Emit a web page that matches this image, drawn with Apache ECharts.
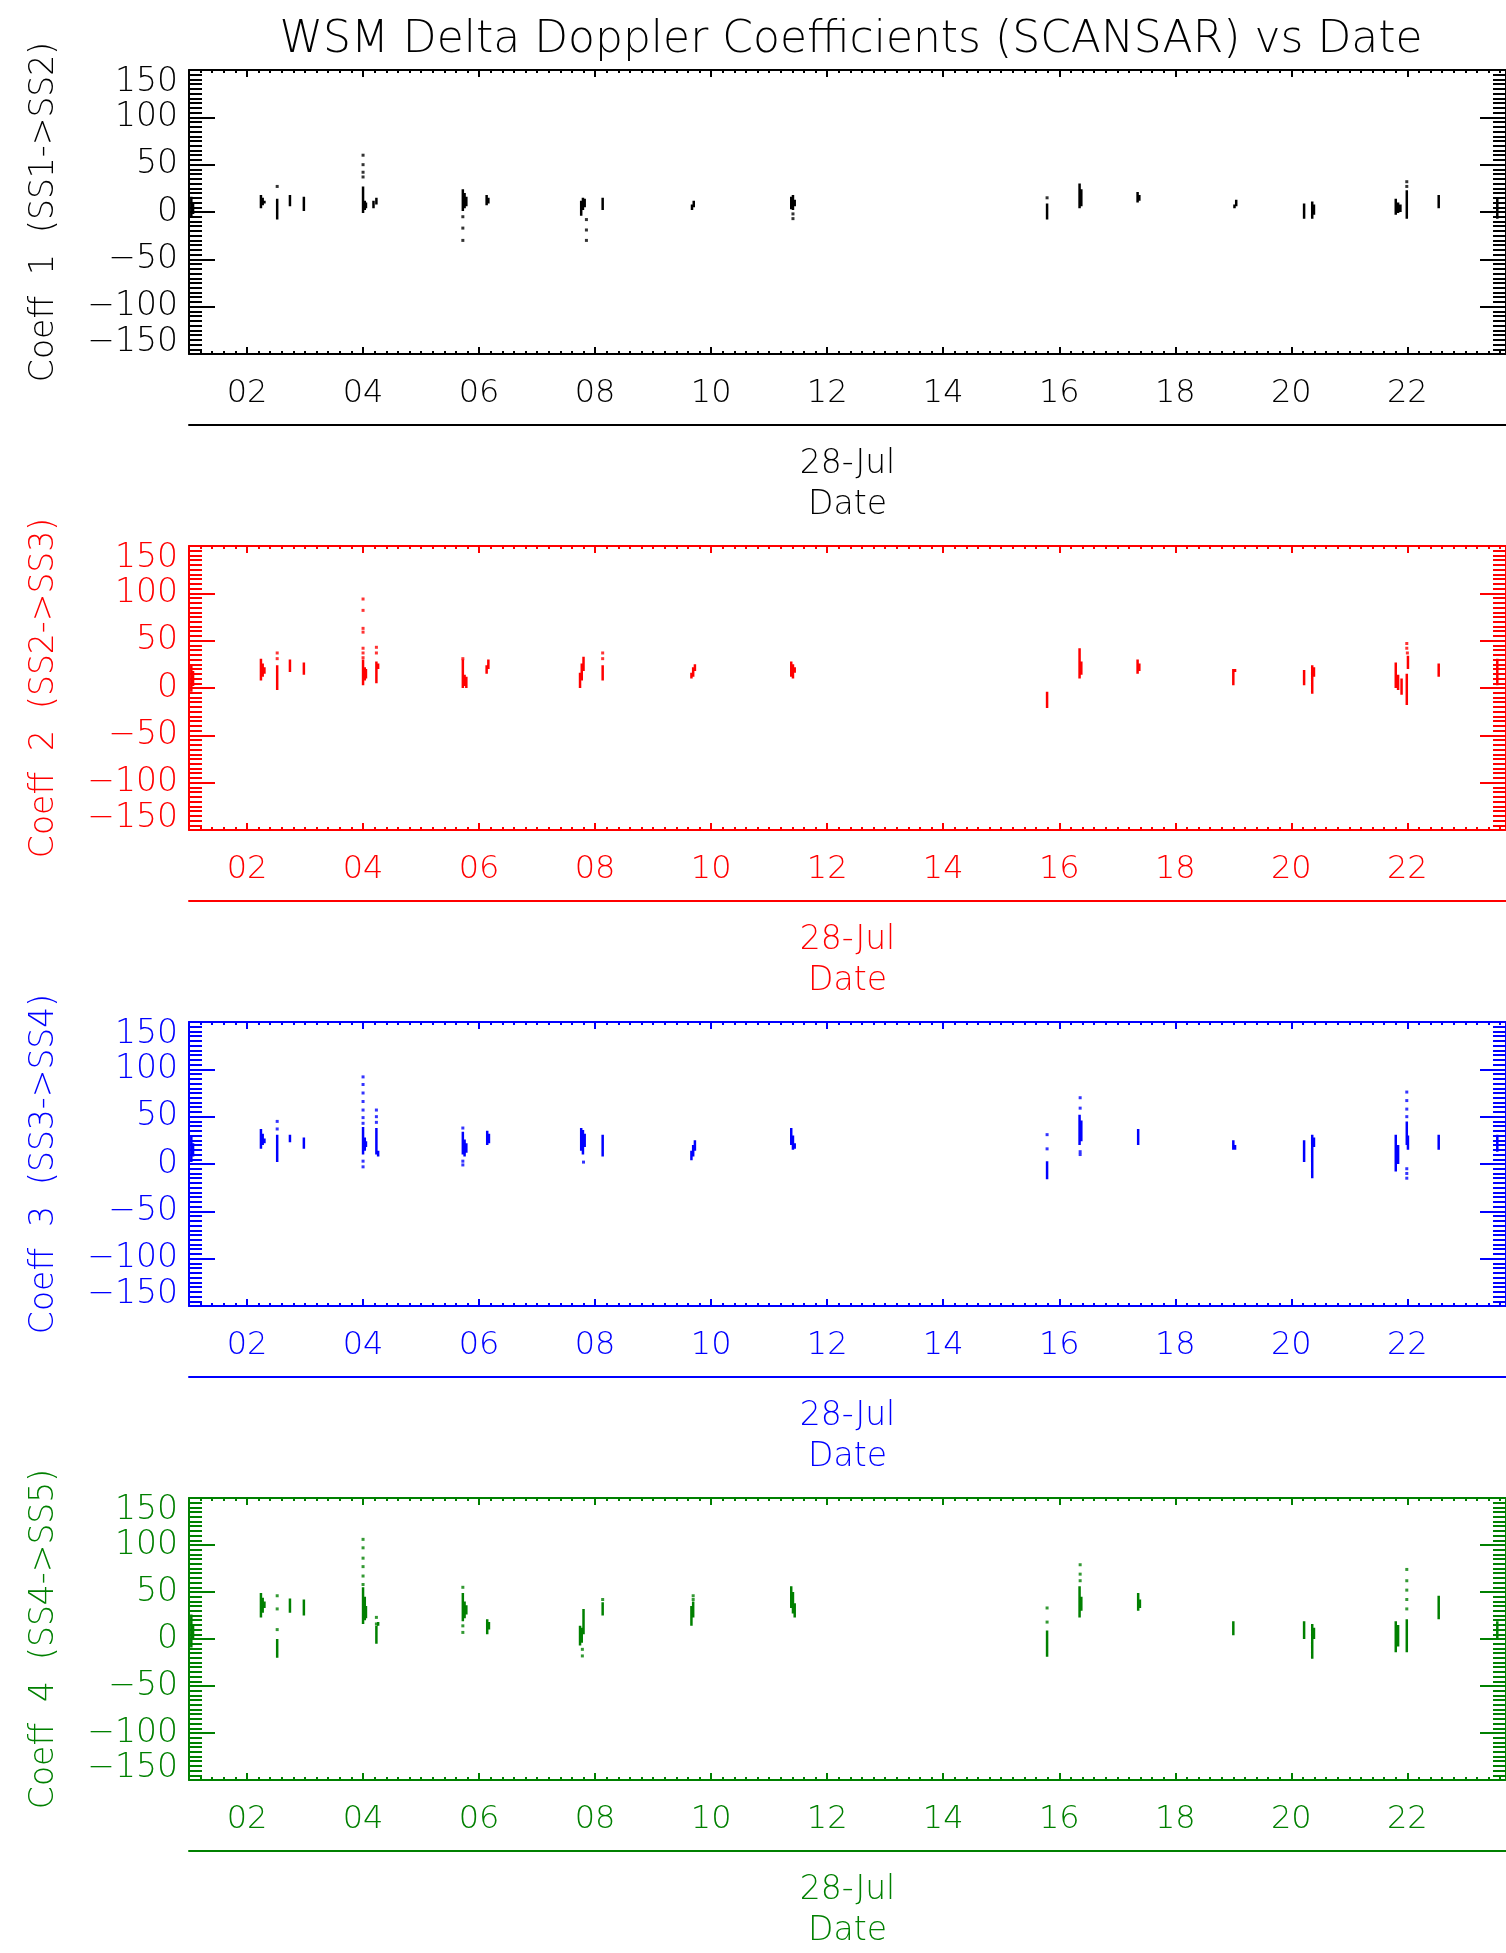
<!DOCTYPE html>
<html>
<head>
<meta charset="utf-8">
<title>WSM Delta Doppler Coefficients (SCANSAR) vs Date</title>
<script src="https://cdn.jsdelivr.net/npm/echarts@6/dist/echarts.min.js"></script>
<style>
  html, body { margin: 0; padding: 0; background: #fff; }
  #chart { width: 1506px; height: 1953px; }
</style>
</head>
<body>
<div id="chart"></div>
<script>
// x = hour of day on 28-Jul, streaks = [hour, low, high], dots = [hour, value]
var titleText = 'WSM Delta Doppler Coefficients (SCANSAR) vs Date';
var coeffNames = ['Coeff  1  (SS1->SS2)', 'Coeff  2  (SS2->SS3)', 'Coeff  3  (SS3->SS4)', 'Coeff  4  (SS4->SS5)'];
var coeffColors = ['#000000', '#ff0000', '#0000ff', '#008000'];
var hourTicks = [2, 4, 6, 8, 10, 12, 14, 16, 18, 20, 22];
var dateName = '28-Jul\nDate';

var c1Streaks = [
  [1.04, -5, 16], [1.07, -2, 10], [2.24, 4, 18], [2.27, 7, 15], [2.30, 9, 12],
  [2.52, -8, 14], [2.74, 6, 18], [2.98, 1, 16], [4.00, -1, 27], [4.03, 2, 12],
  [4.05, 4, 10], [4.18, 4, 12], [4.23, 8, 15], [5.72, 1, 24], [5.75, 4, 20],
  [5.78, 6, 16], [6.13, 7, 18], [6.16, 9, 15], [7.76, -4, 12], [7.79, 2, 15],
  [7.82, 5, 14], [8.13, 2, 15], [9.67, 2, 8], [9.70, 5, 12], [11.38, 3, 16],
  [11.41, 2, 18], [11.44, 6, 13], [15.79, -8, 9], [16.35, 4, 30], [16.38, 6, 24],
  [17.35, 10, 21], [17.38, 12, 18], [19.02, 4, 8], [19.05, 6, 13], [20.22, -7, 9],
  [20.36, -7, 11], [20.39, -3, 8], [21.80, -3, 14], [21.84, -1, 10], [21.88, 0, 8],
  [21.99, -7, 23], [22.54, 4, 18], [23.55, -7, 14]
];
var c1Dots = [
  [2.52, 27], [4.00, 60], [4.00, 50], [4.00, 42], [4.00, 37], [5.72, -5],
  [5.72, -17], [5.72, -30], [7.85, -8], [7.85, -19], [7.85, -30], [11.41, -2],
  [11.41, -7], [15.79, 15], [21.99, 32], [21.99, 27]
];

var c2Streaks = [
  [1.04, -4, 24], [1.07, 2, 18], [2.24, 8, 31], [2.27, 12, 26], [2.30, 15, 22],
  [2.52, -2, 24], [2.74, 17, 30], [2.98, 14, 27], [4.00, 3, 30], [4.03, 8, 22],
  [4.05, 10, 20], [4.23, 5, 28], [4.26, 20, 26], [5.72, 0, 30], [5.75, 2, 14],
  [5.78, 0, 12], [6.13, 15, 24], [6.16, 20, 30], [7.74, 0, 16], [7.77, 8, 26],
  [7.80, 18, 33], [8.13, 8, 24], [9.66, 10, 16], [9.69, 12, 22], [9.72, 18, 25],
  [11.38, 12, 28], [11.41, 10, 25], [11.44, 16, 22], [15.79, -21, -4], [16.35, 10, 42],
  [16.38, 14, 28], [17.35, 15, 30], [17.38, 18, 26], [19.00, 3, 20], [19.03, 17, 20],
  [20.22, 3, 19], [20.36, -6, 24], [20.39, 12, 22], [21.80, 0, 27], [21.84, -2, 14],
  [21.90, -7, 10], [21.99, -18, 15], [22.01, 20, 34], [22.54, 12, 26], [23.55, 3, 31]
];
var c2Dots = [
  [2.52, 37], [2.52, 31], [4.00, 94], [4.00, 82], [4.00, 63], [4.00, 59],
  [4.00, 42], [4.00, 37], [4.00, 32], [4.23, 43], [4.23, 37], [5.72, 31],
  [8.13, 37], [8.13, 31], [21.99, 47], [21.99, 42], [22.00, 37]
];

var c3Streaks = [
  [1.04, 2, 30], [1.07, 8, 22], [2.24, 16, 37], [2.27, 20, 32], [2.30, 22, 27],
  [2.52, 2, 31], [2.74, 23, 31], [2.98, 16, 28], [4.00, 10, 39], [4.03, 14, 28],
  [4.05, 18, 24], [4.23, 10, 38], [4.26, 8, 14], [5.72, 10, 34], [5.75, 8, 26],
  [5.78, 12, 22], [6.14, 20, 35], [6.17, 22, 32], [7.76, 14, 38], [7.79, 10, 36],
  [7.82, 18, 32], [8.13, 8, 31], [9.66, 4, 14], [9.69, 8, 20], [9.72, 14, 25],
  [11.38, 20, 38], [11.41, 15, 30], [11.44, 16, 22], [15.79, -16, 3], [16.35, 20, 52],
  [16.38, 24, 46], [17.36, 20, 37], [19.00, 15, 25], [19.03, 15, 20], [20.22, 2, 25],
  [20.36, -15, 31], [20.39, 18, 28], [21.80, -8, 31], [21.84, 0, 20], [21.99, 20, 45],
  [22.01, 15, 30], [22.54, 15, 31], [23.55, 13, 31]
];
var c3Dots = [
  [2.52, 45], [2.52, 37], [4.00, 92], [4.00, 84], [4.00, 75], [4.00, 66],
  [4.00, 57], [4.00, 49], [4.00, 43], [4.00, 3], [4.00, -3], [4.23, 57],
  [4.23, 50], [4.23, 44], [5.72, 38], [5.72, 3], [5.72, -1], [7.80, 2],
  [15.79, 31], [15.79, 16], [16.36, 70], [16.36, 59], [16.36, 13], [16.36, 10],
  [21.99, 76], [21.99, 67], [21.99, 58], [21.99, 50], [21.99, -5], [21.99, -10],
  [21.99, -15]
];

var c4Streaks = [
  [1.04, -9, 26], [1.07, 0, 15], [2.24, 23, 49], [2.27, 28, 44], [2.30, 33, 40],
  [2.52, -20, 0], [2.74, 28, 43], [2.98, 25, 42], [4.00, 16, 55], [4.03, 20, 45],
  [4.05, 22, 35], [4.23, -5, 14], [4.26, 14, 18], [5.72, 19, 49], [5.75, 22, 40],
  [5.78, 26, 36], [6.14, 5, 21], [6.17, 10, 18], [7.74, -7, 14], [7.77, -4, 12],
  [7.80, 5, 32], [8.13, 25, 39], [9.66, 14, 35], [9.69, 23, 40], [11.38, 33, 56],
  [11.41, 27, 50], [11.44, 23, 38], [15.79, -19, 9], [16.35, 23, 56], [16.38, 30, 45],
  [17.36, 30, 49], [17.39, 33, 42], [19.00, 4, 19], [20.22, 0, 19], [20.36, -21, 16],
  [20.39, 0, 12], [21.80, -14, 19], [21.84, -8, 15], [21.99, -14, 21], [22.54, 21, 46],
  [23.55, 0, 19]
];
var c4Dots = [
  [2.52, 46], [2.52, 32], [2.52, 10], [4.00, 106], [4.00, 97], [4.00, 86],
  [4.00, 77], [4.00, 67], [4.00, 58], [4.23, 23], [4.23, 16], [5.72, 55],
  [5.72, 14], [5.72, 7], [7.78, -11], [7.78, -18], [8.13, 42], [9.69, 46],
  [9.69, 42], [15.79, 33], [15.79, 18], [16.36, 79], [16.36, 69], [16.36, 62],
  [21.99, 74], [21.99, 62], [21.99, 52], [21.99, 42], [21.99, 32]
];

var allStreaks = [c1Streaks, c2Streaks, c3Streaks, c4Streaks];
var allDots = [c1Dots, c2Dots, c3Dots, c4Dots];

// layout
var fontFamily = "'DejaVu Sans', sans-serif";
var fontWeight = 200;
var gridLeft = 189, gridWidth = 1324, gridHeight = 284;
var gridTops = [70, 546, 1022, 1498];
var hourMin = 1, hourMax = 23.7;

function pad2(v) {
  return (v < 10 ? '0' : '') + v;
}

function streakLine(streaks) {
  var out = [];
  streaks.forEach(function (s) {
    out.push([s[0], s[1]], [s[0], s[2]], [s[0], '-']);
  });
  return out;
}

var grids = [], xAxes = [], yAxes = [], series = [];

for (var i = 0; i < 4; i++) {
  var color = coeffColors[i];
  var line = { color: color, width: 2 };
  grids.push({ left: gridLeft, top: gridTops[i], width: gridWidth, height: gridHeight });

  // minor ticks every 12 min, bottom and top
  ['bottom', 'top'].forEach(function (pos) {
    xAxes.push({
      gridIndex: i, type: 'value', position: pos, min: hourMin, max: hourMax, interval: 0.2,
      axisLine: { show: true, onZero: false, lineStyle: line },
      axisTick: { show: true, inside: true, length: 3, lineStyle: line },
      axisLabel: { show: false },
      splitLine: { show: false }
    });
  });
  // major ticks every 2 hours with labels (bottom), ticks only (top)
  ['bottom', 'top'].forEach(function (pos) {
    xAxes.push({
      gridIndex: i, type: 'value', position: pos, min: hourMin, max: hourMax,
      axisLine: { show: false, onZero: false },
      axisTick: { show: true, inside: true, length: 7, lineStyle: line, customValues: hourTicks },
      axisLabel: {
        show: pos === 'bottom', customValues: hourTicks, formatter: pad2,
        color: color, fontSize: 32, fontFamily: fontFamily, fontWeight: fontWeight, margin: 24
      },
      splitLine: { show: false }
    });
  });
  // date axis below the labels
  xAxes.push({
    gridIndex: i, type: 'value', position: 'bottom', offset: 71, min: hourMin, max: hourMax,
    axisLine: { show: true, onZero: false, lineStyle: line },
    axisTick: { show: false },
    axisLabel: { show: false },
    splitLine: { show: false },
    name: dateName, nameLocation: 'middle', nameGap: 19,
    nameTextStyle: {
      color: color, fontSize: 33, fontFamily: fontFamily, fontWeight: fontWeight,
      lineHeight: 41, verticalAlign: 'top'
    }
  });

  ['left', 'right'].forEach(function (pos) {
    yAxes.push({
      gridIndex: i, type: 'value', position: pos, min: -150, max: 150, interval: 50,
      name: pos === 'left' ? coeffNames[i] : '',
      nameLocation: 'middle', nameRotate: 90, nameGap: 128,
      nameTextStyle: { color: color, fontSize: 33, fontFamily: fontFamily, fontWeight: fontWeight },
      axisLine: { show: true, onZero: false, lineStyle: line },
      axisTick: { show: true, inside: true, length: 26, lineStyle: line },
      minorTick: { show: true, splitNumber: 10, length: 13, lineStyle: line },
      axisLabel: {
        show: pos === 'left', color: color, fontSize: 33, lineHeight: 24, fontFamily: fontFamily,
        fontWeight: fontWeight, margin: 11,
        showMinLabel: true, showMaxLabel: true, hideOverlap: false,
        verticalAlignMaxLabel: 'top', verticalAlignMinLabel: 'bottom',
        formatter: function (v) { return String(v).replace('-', '\u2212'); }
      },
      splitLine: { show: false }
    });
  });

  series.push({
    type: 'line', xAxisIndex: i * 5, yAxisIndex: i * 2,
    data: streakLine(allStreaks[i]), symbol: 'none', connectNulls: false,
    lineStyle: { color: color, width: 2.5 }, itemStyle: { color: color },
    animation: false, silent: true
  });
  series.push({
    type: 'scatter', xAxisIndex: i * 5, yAxisIndex: i * 2,
    data: allDots[i], symbol: 'rect', symbolSize: 3,
    itemStyle: { color: color }, animation: false, silent: true
  });
}

var chart = echarts.init(document.getElementById('chart'), null, { renderer: 'canvas' });
chart.setOption({
  backgroundColor: '#ffffff',
  animation: false,
  graphic: [{
    type: 'text', x: 851, y: 41,
    style: {
      text: titleText, fill: '#000000', fontSize: 44, fontFamily: fontFamily, fontWeight: fontWeight,
      align: 'center', verticalAlign: 'middle', textAlign: 'center', textVerticalAlign: 'middle'
    }
  }],
  grid: grids,
  xAxis: xAxes,
  yAxis: yAxes,
  series: series
});
</script>
</body>
</html>
